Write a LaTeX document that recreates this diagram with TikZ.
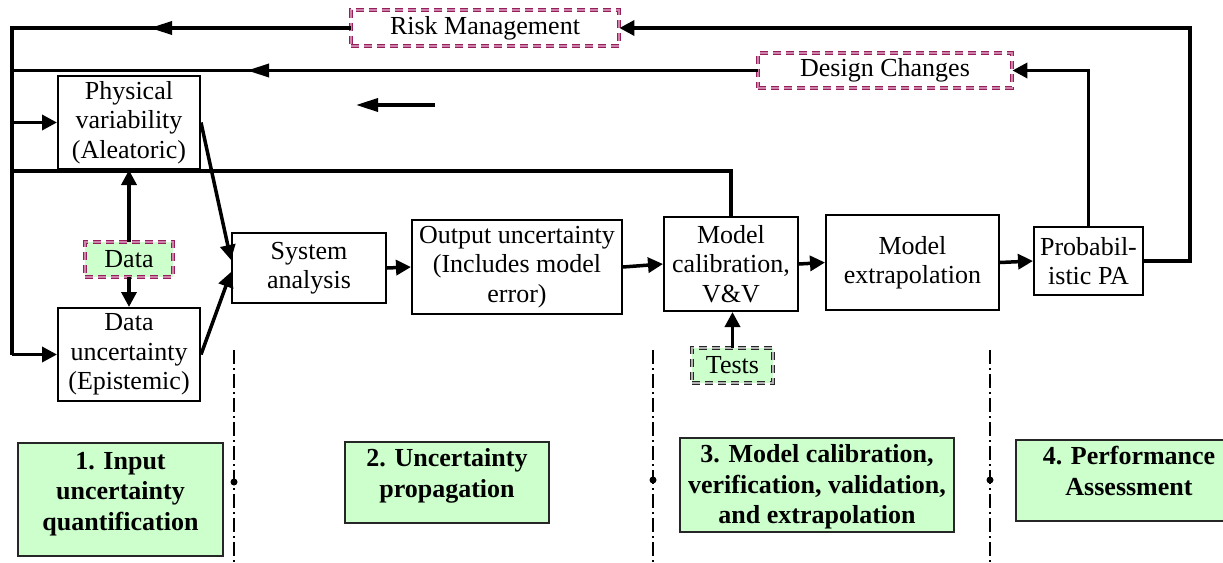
\documentclass[tikz,border=0pt]{standalone}
\usepackage{fontspec}
\setmainfont{Liberation Serif}
\usetikzlibrary{arrows.meta,calc}
\definecolor{pgreen}{RGB}{204,255,204}
\definecolor{pinkd}{RGB}{150,30,90}
\definecolor{pinkl}{RGB}{205,130,170}
\begin{document}
\begin{tikzpicture}[x=1pt,y=-1pt,font=\fontsize{26}{29.5}\selectfont,
  box/.style={draw, line width=2pt, inner sep=0pt, align=center},
  dbox/.style={draw=pinkd, double=pinkl, double distance=1.6pt, line width=0.8pt,
     dash pattern=on 8pt off 5pt, inner sep=0pt, align=center},
  phase/.style={draw=black!85, line width=2pt, fill=pgreen, inner sep=0pt},
  phasetxt/.style={font=\fontsize{26}{30.5}\selectfont\bfseries, align=center, inner sep=0pt},
  conn/.style={line width=3.5pt},
  arr/.style={conn, -{Triangle[length=15pt,width=15pt]}},
  longarr/.style={conn, -{Triangle[length=22pt,width=13pt]}},
  dd/.style={line width=2.2pt, dash pattern=on 14pt off 4pt on 2pt off 4pt}]
\useasboundingbox (0,0) rectangle (1223,562);

% main boxes
\node[box, minimum width=142pt, minimum height=93pt] (Phys) at (129,122.5) {Physical\\variability\\(Aleatoric)};
\node[box, minimum width=142pt, minimum height=93pt] (DataUnc) at (129,354.5) {Data\\uncertainty\\(Epistemic)};
\node[box, minimum width=154pt, minimum height=70pt] (Sys) at (309,268) {System\\analysis};
\node[box, minimum width=210pt, minimum height=94pt] (Out) at (517,267) {Output uncertainty\\(Includes model\\error)};
\node[box, minimum width=134pt, minimum height=94pt] (MC) at (731,264) {Model\\calibration,\\V\&V};
\node[box, minimum width=173pt, minimum height=95pt] (ME) at (912.5,262.5) {Model\\extrapolation};
\node[box, minimum width=109pt, minimum height=68pt] (PA) at (1088.5,261) {Probabil-\\istic PA};

% dashed boxes
\node[dbox, fill=pgreen, minimum width=88pt, minimum height=35pt] (Data) at (129,259.5) {Data};
\node[dbox, draw=black!85, double=black!30, fill=pgreen, minimum width=81pt, minimum height=35pt] (Tests) at (732.5,365.5) {Tests};
\node[dbox, minimum width=268pt, minimum height=36pt] (RM) at (485,28) {Risk Management};
\node[dbox, minimum width=254pt, minimum height=35pt] (DC) at (885,70.5) {Design Changes};

% phase boxes
\node[phase, minimum width=205pt, minimum height=113pt] (P1) at (120.5,499.5) {};
\node[phase, minimum width=204pt, minimum height=81pt] (P2) at (447,482.5) {};
\node[phase, minimum width=274pt, minimum height=94pt] (P3) at (817,485) {};
\node[phase, minimum width=226pt, minimum height=81pt] (P4) at (1129,480.5) {};
\node[phasetxt] (T1) at (120.5,494) {1. Input\\uncertainty\\quantification};
\node[phasetxt] (T2) at (447,476) {2. Uncertainty\\propagation};
\node[phasetxt] (T3) at (817,487) {3. Model calibration,\\verification, validation,\\and extrapolation};
\node[phasetxt] (T4) at (1129,471) {4. Performance\\Assessment};

% coordinates
\coordinate (lt) at (12,28);
\coordinate (lm) at (12,171);
\coordinate (rc) at (1190,28);
\coordinate (rmtip) at (150,28);
\coordinate (dctip) at (247,70.5);
\coordinate (sa1) at (435,105);
\coordinate (sa2) at (356,105);

% flow arrows
\draw[arr] (Phys.east) -- ([yshift=8pt]Sys.west);
\draw[arr] (DataUnc.east) -- ([yshift=-4pt]Sys.west);
\draw[arr] (Sys.east) -- (Out.west);
\draw[arr] (Out.east) -- (MC.west);
\draw[arr] (MC.east) -- (ME.west);
\draw[arr] (ME.east) -- (PA.west);
\draw[arr] (Data.north) -- (Phys.south);
\draw[arr] (Data.south) -- (DataUnc.north);
\draw[arr] (Tests.north) -- (Tests.north |- MC.south);

% feedback loops
\draw[arr] (PA.east) -| (rc) -- (RM.east);
\draw[arr] (PA.north) |- (DC.east);
\draw[conn] (RM.west) -- (lt) -- (lt |- DataUnc.west);
\draw[longarr] (RM.west) -- (rmtip);
\draw[conn] (DC.west) -- (lt |- DC.west);
\draw[longarr] (DC.west) -- (dctip);
\draw[conn] (MC.north) |- (lm);
\draw[arr] (lt |- Phys.west) -- (Phys.west);
\draw[arr] (lt |- DataUnc.west) -- (DataUnc.west);
\draw[longarr] (sa1) -- (sa2);

% phase separators
\foreach \n/\x/\y in {1/234/482, 2/653/480, 3/990/480} {
  \coordinate (s\n t) at (\x,350);
  \coordinate (s\n b) at (\x,562);
  \coordinate (s\n d) at (\x,\y);
  \draw[dd] (s\n t) -- (s\n b);
  \fill (s\n d) circle[radius=3.5pt];
}
\end{tikzpicture}
\end{document}
